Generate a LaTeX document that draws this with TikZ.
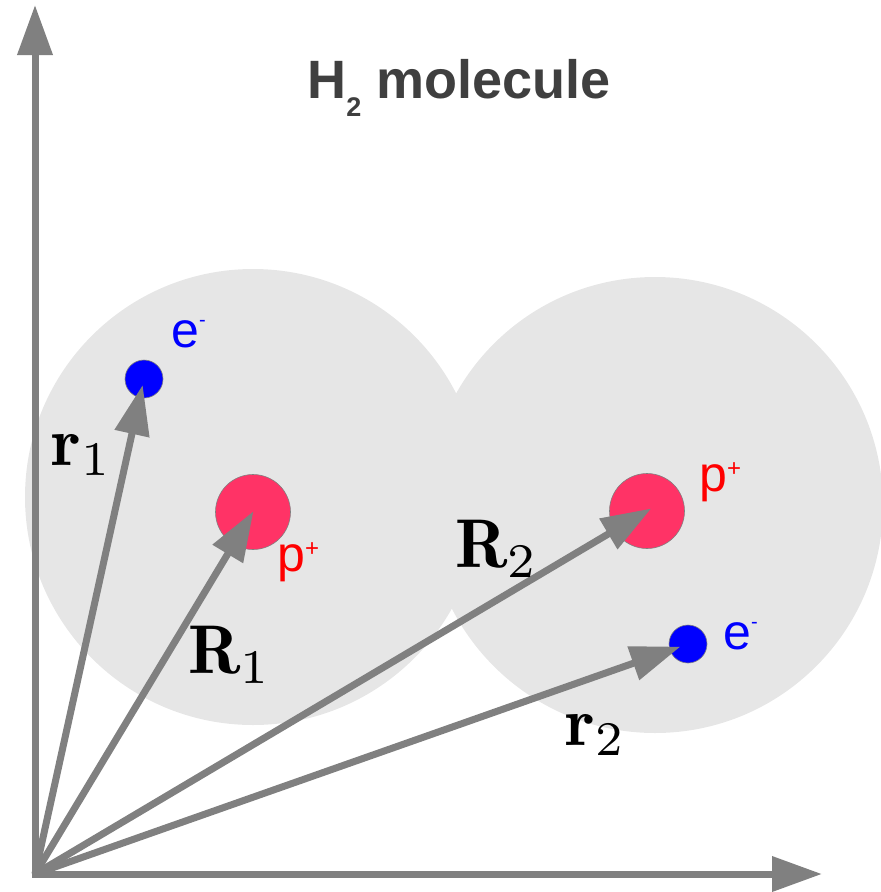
\documentclass[tikz,border=0pt]{standalone}
\usepackage{fontspec}
\newfontfamily\labelfont{Liberation Sans}
\usetikzlibrary{arrows.meta}
\definecolor{cloudgray}{HTML}{E6E6E6}
\definecolor{vecgray}{HTML}{808080}
\definecolor{protonred}{HTML}{FF3366}
\definecolor{titlegray}{HTML}{3F3F3F}
\newcommand{\biglabel}[1]{\scalebox{6.9}{$#1$}}

\begin{document}
\begin{tikzpicture}[x=1pt,y=-1pt]
            % Base settings
            \tikzset{
              cloud/.style={fill=cloudgray},
              proton/.style={circle, fill=protonred, draw=gray, line width=0.6pt, minimum size=75pt, inner sep=0pt},
              electron/.style={circle, fill=blue, draw=gray, line width=0.6pt, minimum size=38pt, inner sep=0pt},
              vec/.style={line width=7pt, vecgray, -{Triangle[length=50pt, width=34pt]}},
              charge/.style={font=\labelfont\fontsize{50}{52}\selectfont, inner sep=0pt, anchor=base west},
              vlabel/.style={inner sep=0pt}
            }
            \useasboundingbox (0,0) rectangle (881,892);

            % --- Electron clouds ---
            \fill[cloud] (253,497) circle[radius=228];
            \fill[cloud] (655,505) circle[radius=228];

            % --- Axes ---
            \coordinate (O) at (35,874);
            \coordinate (ytip) at (35,5);
            \coordinate (xtip) at (822,874);
            \draw[line width=7pt, vecgray, line join=miter,
                  {Triangle[length=50pt, width=34pt]}-{Triangle[length=50pt, width=34pt]}]
              (ytip) -- (O) -- (xtip);

            % --- Particles ---
            \node[proton] (p1) at (253,512) {};
            \node[proton] (p2) at (647,511) {};
            \node[electron] (e1) at (144,379) {};
            \node[electron] (e2) at (688,644) {};

            % --- Position vectors ---
            \draw[vec, shorten >=-1pt] (O) -- (p1.center);
            \draw[vec, shorten >=-5pt] (O) -- (p2.center);
            \draw[vec, shorten >=6pt] (O) -- (e1.center);
            \draw[vec, shorten >=8pt] (O) -- (e2.center);

            % --- Labels ---
            \node[charge, blue] (e1lab) at (171,347) {e\raisebox{21pt}{\fontsize{20}{22}\selectfont -}};
            \node[charge, blue] (e2lab) at (723,649) {e\raisebox{21pt}{\fontsize{20}{22}\selectfont -}};
            \node[charge, red] (p1lab) at (277,571) {p\raisebox{15pt}{\fontsize{24}{26}\selectfont +}};
            \node[charge, red] (p2lab) at (699,491) {p\raisebox{15pt}{\fontsize{24}{26}\selectfont +}};

            \node[vlabel] (r1lab) at (82,455) {\biglabel{\mathbf{r}_1}};
            \node[vlabel] (R1lab) at (230,655) {\biglabel{\mathbf{R}_1}};
            \node[vlabel] (R2lab) at (497,549) {\biglabel{\mathbf{R}_2}};
            \node[vlabel] (r2lab) at (596,735) {\biglabel{\mathbf{r}_2}};

            \node[font=\labelfont\bfseries\fontsize{54}{60}\selectfont, text=titlegray, inner sep=0pt]
              (title) at (459,88) {H\raisebox{-18pt}{\fontsize{27}{30}\selectfont 2} molecule};
\end{tikzpicture}
\end{document}
